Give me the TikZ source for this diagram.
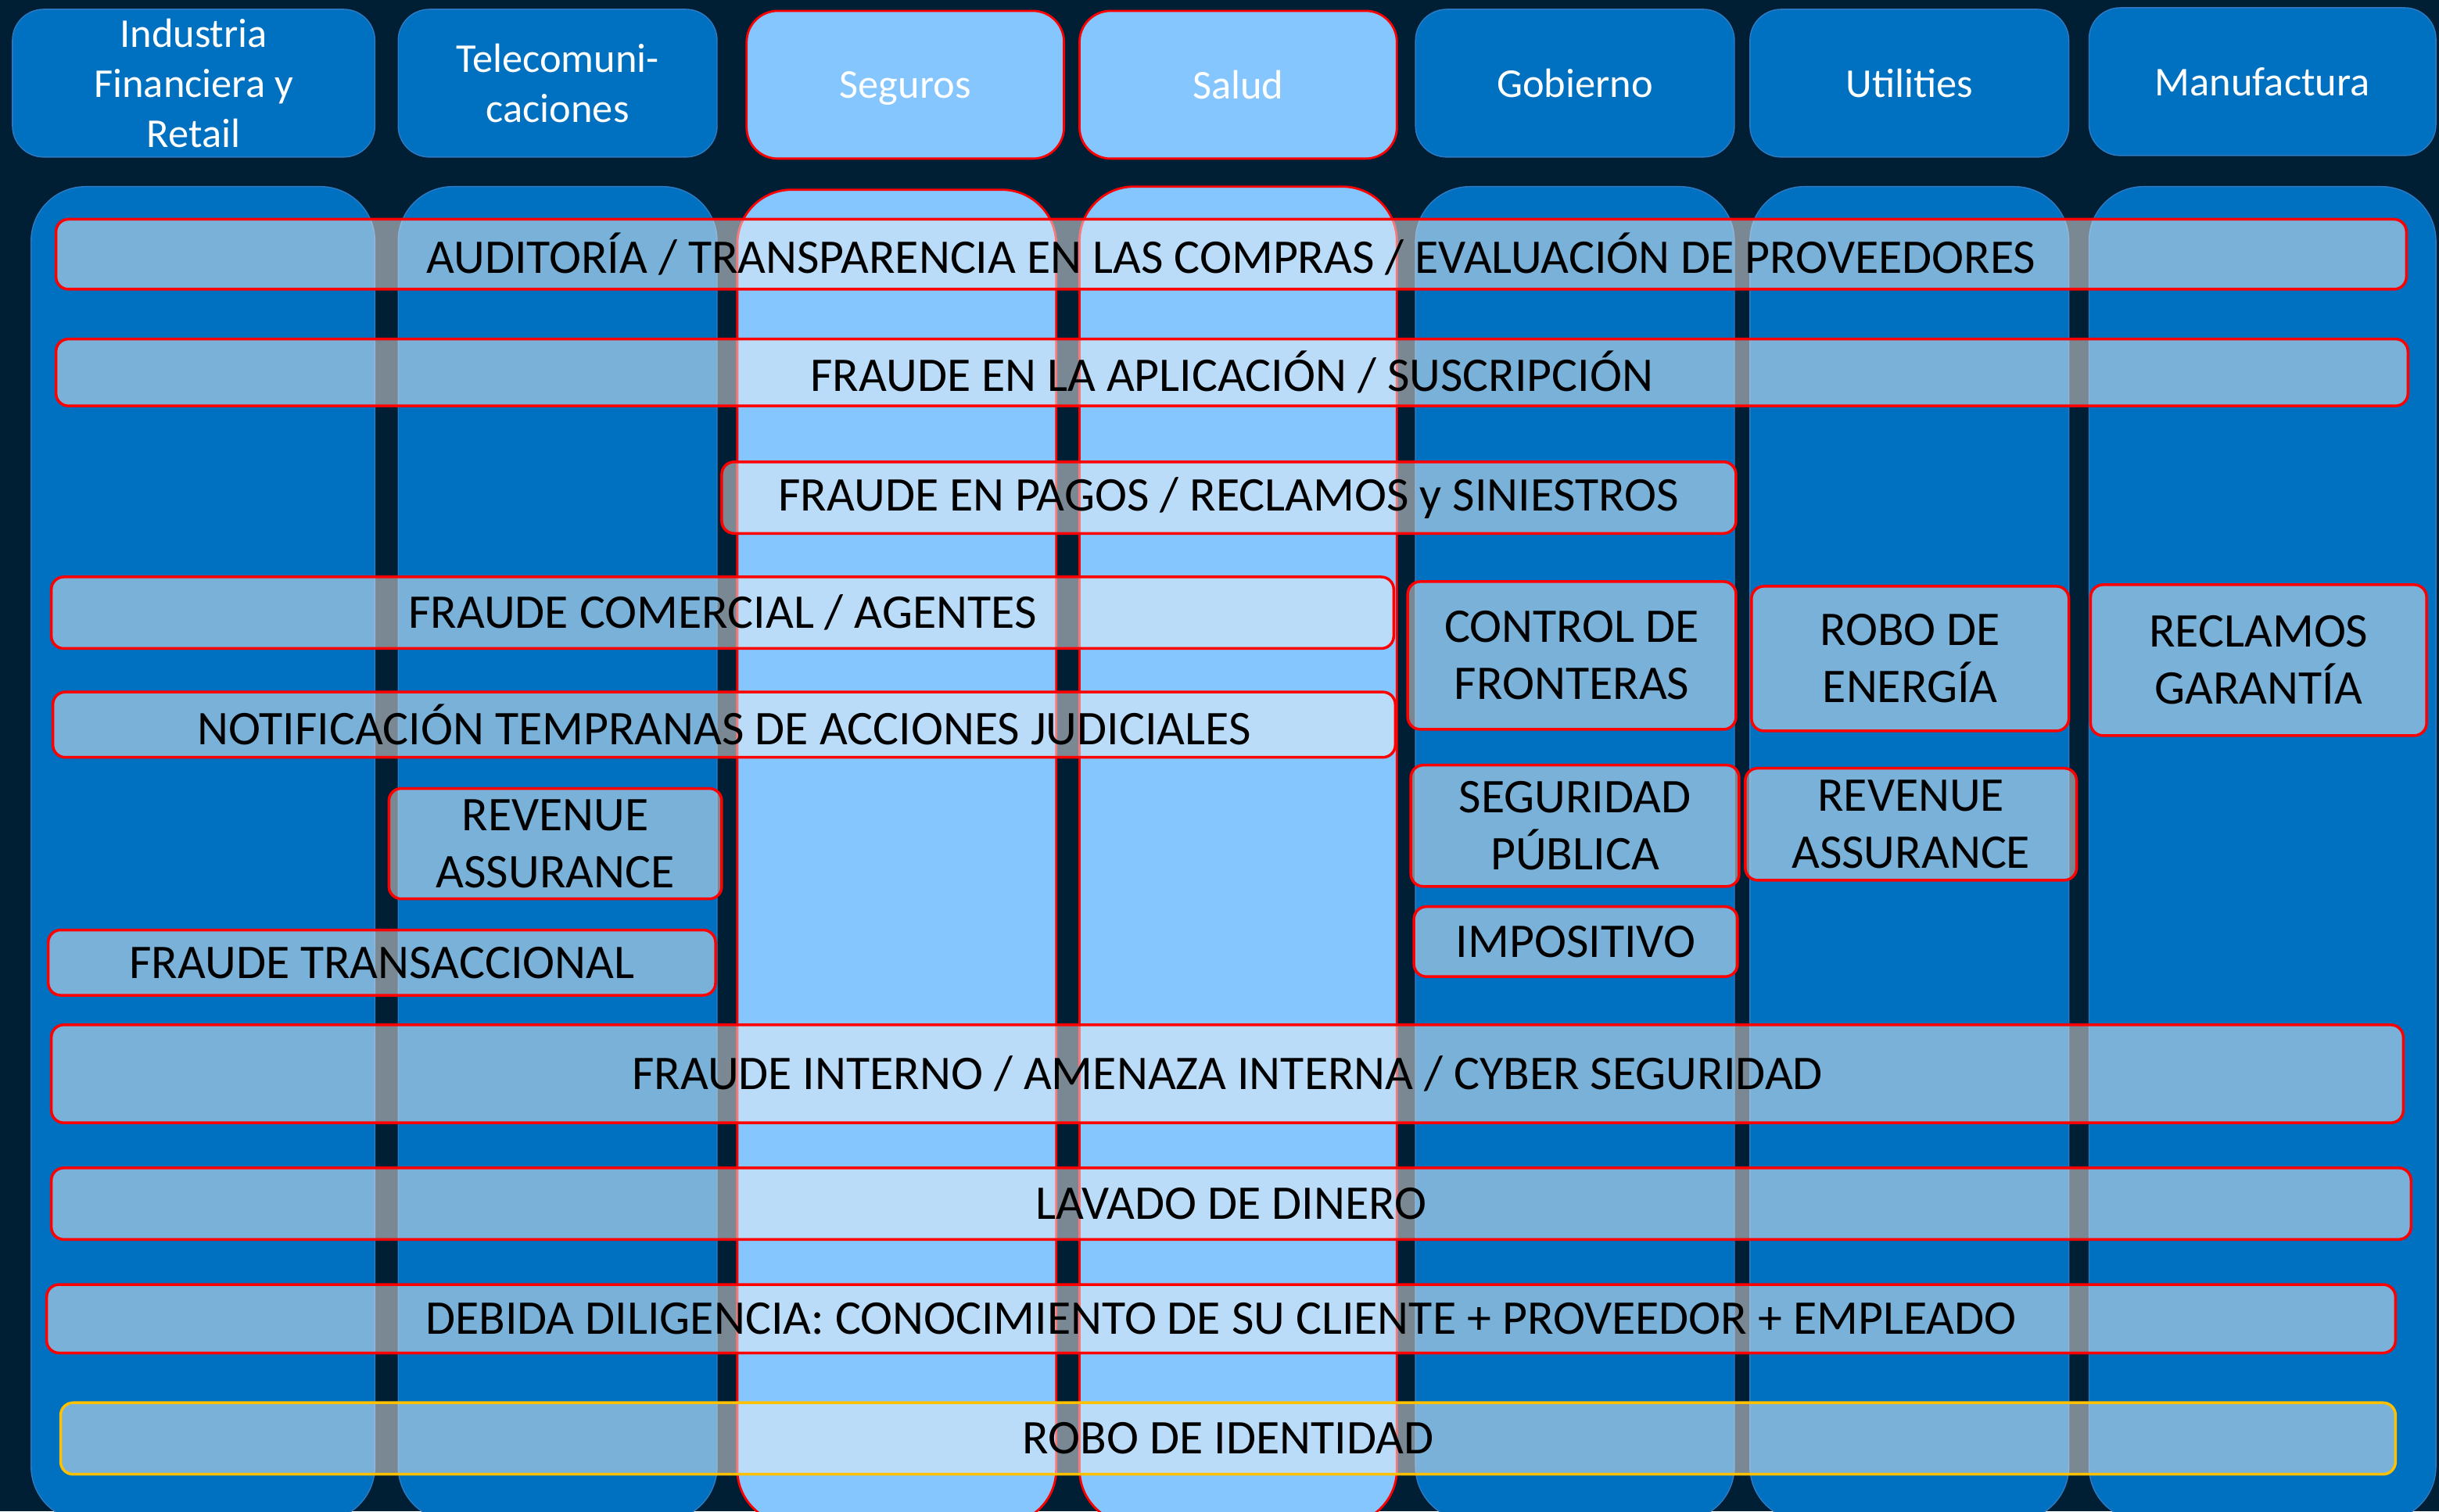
\documentclass[tikz,border=0pt]{standalone}
\usepackage{fontspec}
\setmainfont{Carlito}
\usetikzlibrary{positioning}
\definecolor{fondo}{HTML}{001F35}
\definecolor{azul}{HTML}{0070C0}
\definecolor{celeste}{HTML}{85C6FF}
\definecolor{borde}{HTML}{2E7BC4}
\definecolor{rojo}{HTML}{FF0000}
\definecolor{oro}{HTML}{FFC000}
\definecolor{velo}{HTML}{F2F2F2}
\tikzstyle{sector} = [draw=borde, fill=azul, rounded corners=0.4cm, text=white, align=center, inner sep=0pt, minimum height=1.9cm, font=\fontsize{15}{18.2}\selectfont]
\tikzstyle{sectorhl} = [sector, draw=rojo, line width=0.8pt, fill=celeste]
\tikzstyle{columna} = [draw=borde, fill=azul, rounded corners=0.7cm]
\tikzstyle{columnahl} = [draw=rojo, line width=0.8pt, fill=celeste, rounded corners=0.7cm]
\tikzstyle{riesgo} = [draw=rojo, line width=1pt, fill=velo, fill opacity=0.5, draw opacity=1, text opacity=1, rounded corners=0.16cm, align=center, inner sep=0pt, font=\fontsize{17.7}{21}\selectfont]

\begin{document}
\begin{tikzpicture}
  \fill[fondo] (0,0) rectangle (31.36,-19.44);
  \clip (0,0) rectangle (31.36,-19.44);
  % cabeceras
  \node[sector, minimum width=4.66cm] (ind) at (2.49,-1.07) {Industria\\Financiera y\\Retail};
  \node[sector, minimum width=4.10cm] (tel) at (7.17,-1.07) {Telecomuni-\\caciones};
  \node[sectorhl, minimum width=4.08cm, text depth=0pt] (seg) at (11.64,-1.09) {Seguros};
  \node[sectorhl, minimum width=4.08cm] (sal) at (15.92,-1.09) {Salud};
  \node[sector, minimum width=4.10cm] (gob) at (20.25,-1.07) {Gobierno};
  \node[sector, minimum width=4.10cm] (uti) at (24.55,-1.07) {Utilities};
  \node[sector, minimum width=4.46cm] (man) at (29.09,-1.05) {Manufactura};
  % columnas
  \draw[columna] (0.40,-2.40) rectangle (4.82,-19.56);
  \draw[columna] (5.12,-2.40) rectangle (9.22,-19.56);
  \draw[columnahl] (9.48,-2.44) rectangle (13.58,-19.60);
  \draw[columnahl] (13.88,-2.40) rectangle (17.96,-19.60);
  \draw[columna] (18.20,-2.40) rectangle (22.30,-19.56);
  \draw[columna] (22.50,-2.40) rectangle (26.60,-19.56);
  \draw[columna] (26.86,-2.40) rectangle (31.32,-19.56);
  % riesgos transversales
  \node[riesgo, minimum width=30.22cm, minimum height=0.90cm] (aud) at (15.83,-3.27) {AUDITORÍA / TRANSPARENCIA EN LAS COMPRAS / EVALUACIÓN DE PROVEEDORES};
  \node[riesgo, minimum width=30.24cm, minimum height=0.86cm] (apl) at (15.84,-4.79) {FRAUDE EN LA APLICACIÓN / SUSCRIPCIÓN};
  \node[riesgo, minimum width=13.04cm, minimum height=0.92cm] (pag) at (15.80,-6.40) {FRAUDE EN PAGOS / RECLAMOS y SINIESTROS};
  \node[riesgo, minimum width=17.26cm, minimum height=0.92cm] (com) at (9.29,-7.88) {FRAUDE COMERCIAL / AGENTES};
  \node[riesgo, minimum width=17.26cm, minimum height=0.84cm] (not) at (9.31,-9.32) {NOTIFICACIÓN TEMPRANAS DE ACCIONES JUDICIALES};
  \node[riesgo, minimum width=4.28cm, minimum height=1.42cm] (rev1) at (7.14,-10.85) {REVENUE\\ASSURANCE};
  \node[riesgo, minimum width=8.58cm, minimum height=0.84cm] (tra) at (4.91,-12.38) {FRAUDE TRANSACCIONAL};
  \node[riesgo, minimum width=30.24cm, minimum height=1.26cm] (int) at (15.78,-13.81) {FRAUDE INTERNO / AMENAZA INTERNA / CYBER SEGURIDAD};
  \node[riesgo, minimum width=30.34cm, minimum height=0.92cm] (lav) at (15.83,-15.48) {LAVADO DE DINERO};
  \node[riesgo, minimum width=30.20cm, minimum height=0.88cm] (deb) at (15.70,-16.96) {DEBIDA DILIGENCIA: CONOCIMIENTO DE SU CLIENTE + PROVEEDOR + EMPLEADO};
  \node[riesgo, draw=oro, minimum width=30.02cm, minimum height=0.92cm] (rid) at (15.79,-18.50) {ROBO DE IDENTIDAD};
  % riesgos por sector
  \node[riesgo, minimum width=4.22cm, minimum height=1.90cm] (fro) at (20.21,-8.43) {CONTROL DE\\FRONTERAS};
  \node[riesgo, minimum width=4.08cm, minimum height=1.86cm] (ene) at (24.56,-8.47) {ROBO DE\\ENERGÍA};
  \node[riesgo, minimum width=4.32cm, minimum height=1.94cm] (gar) at (29.04,-8.49) {RECLAMOS\\GARANTÍA};
  \node[riesgo, minimum width=4.22cm, minimum height=1.56cm] (spu) at (20.25,-10.62) {SEGURIDAD\\PÚBLICA};
  \node[riesgo, minimum width=4.26cm, minimum height=1.44cm] (rev2) at (24.57,-10.60) {REVENUE\\ASSURANCE};
  \node[riesgo, minimum width=4.16cm, minimum height=0.90cm] (imp) at (20.26,-12.11) {IMPOSITIVO};
\end{tikzpicture}
\end{document}
